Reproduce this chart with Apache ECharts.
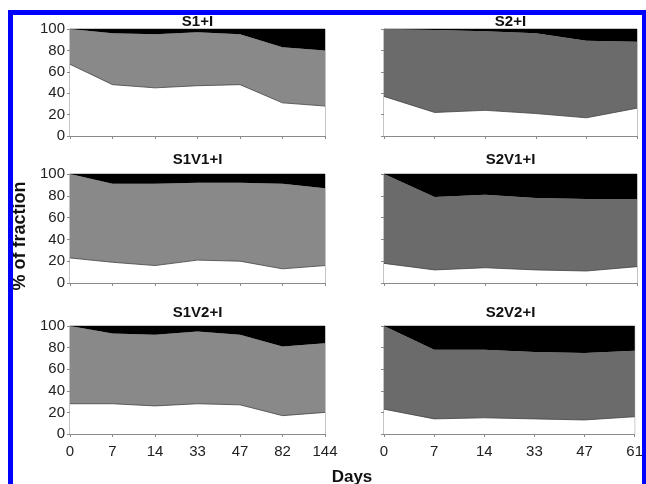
<!DOCTYPE html>
<html>
<head>
<meta charset="utf-8">
<script src="https://cdn.jsdelivr.net/npm/echarts@6/dist/echarts.min.js"></script>
<style>
  html, body { margin: 0; padding: 0; background: #fff; }
  #main { width: 646px; height: 484px; }
</style>
</head>
<body>
<div id="main"></div>
<script>
// x categories (days)
var daysLeft = ['0', '7', '14', '33', '47', '82', '144'];
var daysRight = ['0', '7', '14', '33', '47', '61'];
var yTicks = [0, 20, 40, 60, 80, 100];

// panel titles
var titles = ['S1+I', 'S2+I', 'S1V1+I', 'S2V1+I', 'S1V2+I', 'S2V2+I'];

// % of fraction, bottom (white) / middle (grey) / top (black)
var s1i_white = [67, 48, 45, 47, 48, 31, 28];
var s1i_grey = [33, 48, 50, 50, 47, 52, 52];
var s1i_black = [0, 4, 5, 3, 5, 17, 20];

var s2i_white = [37, 22, 24, 21, 17, 26];
var s2i_grey = [63, 77, 74, 75, 72, 62];
var s2i_black = [0, 1, 2, 4, 11, 12];

var s1v1_white = [23, 19, 16, 21, 20, 13, 16];
var s1v1_grey = [77, 72, 75, 71, 72, 78, 71];
var s1v1_black = [0, 9, 9, 8, 8, 9, 13];

var s2v1_white = [18, 12, 14, 12, 11, 15];
var s2v1_grey = [82, 67, 67, 66, 66, 62];
var s2v1_black = [0, 21, 19, 22, 23, 23];

var s1v2_white = [28, 28, 26, 28, 27, 17, 20];
var s1v2_grey = [72, 65, 66, 67, 65, 64, 64];
var s1v2_black = [0, 7, 8, 5, 8, 19, 16];

var s2v2_white = [23, 14, 15, 14, 13, 16];
var s2v2_grey = [77, 64, 63, 62, 62, 61];
var s2v2_black = [0, 22, 22, 24, 25, 23];

var panels = [
  [s1i_white, s1i_grey, s1i_black],
  [s2i_white, s2i_grey, s2i_black],
  [s1v1_white, s1v1_grey, s1v1_black],
  [s2v1_white, s2v1_grey, s2v1_black],
  [s1v2_white, s1v2_grey, s1v2_black],
  [s2v2_white, s2v2_grey, s2v2_black]
];

// layout
var colLeft = [70, 384];
var colWidth = [255, 253];
var rowTop = [29, 174, 326];
var rowHeight = [107, 109, 108];
var titleTop = [14, 152, 305];
var greyCol = ['#898989', '#6b6b6b'];
var axisGrey = '#8a8a8a';
var font = 'Arial, "Liberation Sans", sans-serif';

var grids = [], xAxes = [], yAxes = [], series = [], titleList = [];

for (var i = 0; i < 6; i++) {
  var col = i % 2;
  var row = Math.floor(i / 2);
  grids.push({
    left: colLeft[col],
    top: rowTop[row],
    width: colWidth[col],
    height: rowHeight[row],
    show: true,
    borderColor: axisGrey,
    borderWidth: 1,
    backgroundColor: 'transparent'
  });
  titleList.push({
    text: titles[i],
    left: colLeft[col] + colWidth[col] / 2,
    top: titleTop[row],
    textAlign: 'center',
    padding: 0,
    textStyle: { fontFamily: font, fontSize: 15, fontWeight: 'bold', color: '#111' }
  });
  xAxes.push({
    type: 'category',
    gridIndex: i,
    data: col == 0 ? daysLeft : daysRight,
    boundaryGap: false,
    axisLine: { lineStyle: { color: axisGrey, width: 1 } },
    axisTick: { show: true, length: 3, lineStyle: { color: axisGrey } },
    axisLabel: {
      show: row == 2,
      margin: 10,
      fontFamily: font,
      fontSize: 15,
      color: '#222'
    },
    splitLine: { show: false }
  });
  yAxes.push({
    type: 'value',
    gridIndex: i,
    min: yTicks[0],
    max: yTicks[yTicks.length - 1],
    interval: 20,
    axisLine: { show: true, lineStyle: { color: axisGrey, width: 1 } },
    axisTick: { show: true, length: 3, lineStyle: { color: axisGrey } },
    axisLabel: {
      show: col == 0,
      margin: 5,
      fontFamily: font,
      fontSize: 15,
      color: '#222'
    },
    splitLine: { show: false }
  });

  var fills = ['#ffffff', greyCol[col], '#000000'];
  for (var k = 0; k < 3; k++) {
    series.push({
      type: 'line',
      xAxisIndex: i,
      yAxisIndex: i,
      stack: 'p' + i,
      data: panels[i][k],
      symbol: 'none',
      smooth: false,
      z: 1,
      lineStyle: k == 0 ? { color: '#444', width: 0.8 } : { width: 0 },
      areaStyle: { color: fills[k], opacity: 1 }
    });
  }
}

var option = {
  backgroundColor: '#ffffff',
  animation: false,
  title: titleList,
  grid: grids,
  xAxis: xAxes,
  yAxis: yAxes,
  series: series,
  graphic: [
    {
      type: 'text',
      x: 20, y: 236,
      rotation: Math.PI / 2,
      style: {
        text: '% of fraction',
        font: 'bold 18px Arial, "Liberation Sans", sans-serif',
        fill: '#111',
        align: 'center',
        verticalAlign: 'middle'
      },
      z: 50
    },
    {
      type: 'text',
      x: 352, y: 477,
      style: {
        text: 'Days',
        font: 'bold 17px Arial, "Liberation Sans", sans-serif',
        fill: '#111',
        align: 'center',
        verticalAlign: 'middle'
      },
      z: 50
    },
    // blue frame
    { type: 'rect', shape: { x: 8, y: 10, width: 638, height: 5 }, style: { fill: '#0000ff' }, z: 100 },
    { type: 'rect', shape: { x: 8, y: 10, width: 5, height: 474 }, style: { fill: '#0000ff' }, z: 100 },
    { type: 'rect', shape: { x: 642, y: 10, width: 4, height: 474 }, style: { fill: '#0000ff' }, z: 100 }
  ]
};

var myChart = echarts.init(document.getElementById('main'));
myChart.setOption(option);
</script>
</body>
</html>
